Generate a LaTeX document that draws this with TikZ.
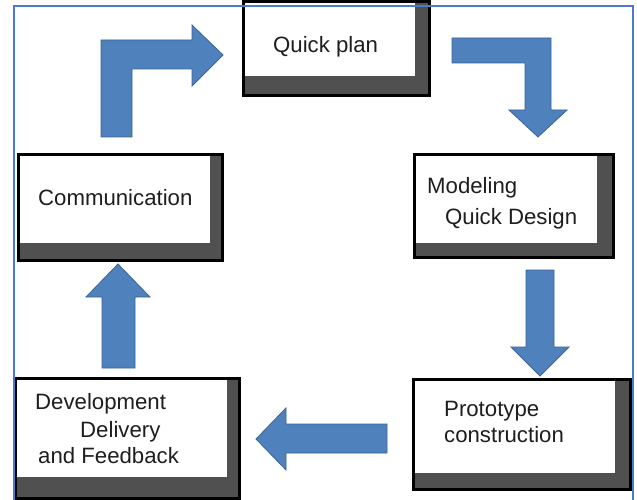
\documentclass[tikz,border=0pt]{standalone}
\usepackage{fontspec}
\setmainfont{Liberation Sans}
\definecolor{frameblue}{HTML}{4A7BCF}
\definecolor{arrowfill}{HTML}{4F81BD}
\definecolor{arrowline}{HTML}{3A6496}
\definecolor{shadowgray}{HTML}{505050}
\definecolor{inkgray}{HTML}{1E1E1E}
\tikzset{
  blockarrow/.style={fill=arrowfill, draw=arrowline, line width=0.8pt, line join=miter},
  boxframe/.style={draw=black, line width=3pt},
  boxshadow/.style={fill=shadowgray},
  label/.style={anchor=base west, inner sep=0pt, text=inkgray, font=\fontsize{22.2}{26}\selectfont},
}
% a stage box: outer corners, then the corner where the white face ends
\newcommand{\stagebox}[6]{%
  \fill[boxshadow] (#1,#2) rectangle (#3,#4);
  \fill[white] (#1,#2) rectangle (#5,#6);
  \draw[boxframe] (#1,#2) rectangle (#3,#4);
}
\begin{document}
\begin{tikzpicture}[x=1pt,y=-1pt]
  \useasboundingbox (0,0) rectangle (637,500);
  \fill[white] (0,0) rectangle (637,500);

  % stage boxes
  \stagebox{243}{2}{429}{96}{415}{76}
  \stagebox{18}{154}{222}{260}{210}{243}
  \stagebox{414}{154}{613}{257}{597}{243}
  \stagebox{413}{379}{630}{489}{615}{473}
  \stagebox{15}{378}{239}{498}{227}{477}

  % stage labels
  \node[label] (plan) at (273,53) {Quick plan};
  \node[label] (comm) at (38,205) {Communication};
  \node[label] (model) at (427,193) {Modeling};
  \node[label] (design) at (445,224) {Quick Design};
  \node[label] (proto) at (444,416) {Prototype};
  \node[label] (constr) at (444,442) {construction};
  \node[label] (devel) at (35,409) {Development};
  \node[label] (deliv) at (80,437) {Delivery};
  \node[label] (feedb) at (38,463) {and Feedback};

  % block arrows running round the cycle
  \draw[blockarrow] (101,137) -- (101,40) -- (192,40) -- (192,25) -- (223,55)
    -- (192,86) -- (192,69) -- (132,69) -- (132,137) -- cycle;
  \draw[blockarrow] (452,38) -- (551,38) -- (551,110) -- (567,110) -- (538,137)
    -- (509,110) -- (525,110) -- (525,63) -- (452,63) -- cycle;
  \draw[blockarrow] (526,270) -- (554,270) -- (554,347) -- (569,347) -- (540,376)
    -- (511,347) -- (526,347) -- cycle;
  \draw[blockarrow] (387,424) -- (387,453) -- (286,453) -- (286,470) -- (256,439)
    -- (286,408) -- (286,424) -- cycle;
  \draw[blockarrow] (102,368) -- (102,297) -- (86,297) -- (118,264) -- (150,297)
    -- (135,297) -- (135,368) -- cycle;

  % outer frame
  \draw[frameblue, line width=2pt] (14,502) -- (14,6) -- (633,6) -- (633,502);
\end{tikzpicture}
\end{document}
